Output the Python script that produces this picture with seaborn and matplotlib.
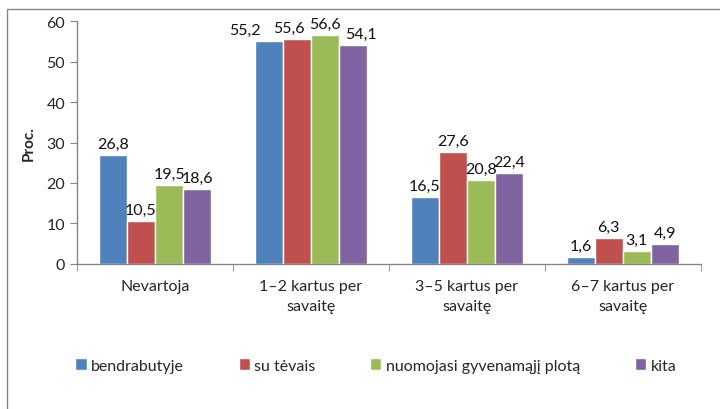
import matplotlib
matplotlib.use("Agg")
import matplotlib.pyplot as plt
import matplotlib.patches as mpatches
import pandas as pd
import seaborn as sns

categories = ["Nevartoja", "1–2 kartus per\nsavaitę", "3–5 kartus per\nsavaitę", "6–7 kartus per\nsavaitę"]
series = ["bendrabutyje", "su tėvais", "nuomojasi gyvenamąjį plotą", "kita"]
bendrabutyje = [26.8, 55.2, 16.5, 1.6]
su_tevais = [10.5, 55.6, 27.6, 6.3]
nuomojasi = [19.5, 56.6, 20.8, 3.1]
kita = [18.6, 54.1, 22.4, 4.9]
colors = ["#4F81BD", "#C0504D", "#9BBB59", "#8064A2"]
y_ticks = [0, 10, 20, 30, 40, 50, 60]

values = [bendrabutyje, su_tevais, nuomojasi, kita]
df = pd.DataFrame({
    "category": [c for _ in series for c in categories],
    "series": [s for s in series for _ in categories],
    "value": [v for vals in values for v in vals],
})

sns.set_style("white")
plt.rcParams["font.family"] = ["Lato", "DejaVu Sans"]

fig = plt.figure(figsize=(7.2, 4.1), dpi=100)
ax = fig.add_axes([0.107, 0.354, 0.866, 0.592])

sns.barplot(data=df, x="category", y="value", hue="series", order=categories,
            hue_order=series, palette=colors, saturation=1, width=0.72,
            gap=0, ax=ax, legend=True)

# labels in the crowded 1-2 group are nudged sideways (in points) like in the original
nudge = {0: -17, 1: -6, 2: 0, 3: 6}
for k, (cont, vals) in enumerate(zip(ax.containers, values)):
    anns = ax.bar_label(cont, labels=[f"{v:.1f}".replace(".", ",") for v in vals],
                        padding=3, fontsize=11.5, color="#111111")
    anns[1].xyann = (nudge[k], 3)

ax.set_ylim(0, 60)
ax.set_xlim(-0.5, len(categories) - 0.5)
ax.set_yticks(y_ticks)
ax.set_xlabel("")
ax.set_ylabel("Proc.", fontsize=11, fontweight="bold", labelpad=8)
ax.tick_params(axis="y", labelsize=11.5, length=5, color="#868686", direction="out", left=True)
ax.tick_params(axis="x", which="major", labelsize=11.5, length=0, pad=11)
for lbl in ax.get_xticklabels():
    lbl.set_multialignment("center")
    lbl.set_linespacing(1.55)
ax.set_xticks([i - 0.5 for i in range(len(categories) + 1)], minor=True)
ax.tick_params(axis="x", which="minor", length=5, color="#868686", direction="out", bottom=True)
for side in ["top", "right"]:
    ax.spines[side].set_visible(False)
for side in ["left", "bottom"]:
    ax.spines[side].set_color("#868686")
    ax.spines[side].set_linewidth(1)

handles, labels = ax.get_legend_handles_labels()
ax.legend_.remove()
fig.legend(handles, labels, loc="center", bbox_to_anchor=(0.522, 0.106), ncol=4,
           frameon=False, fontsize=11.5, handlelength=0.7, handleheight=0.7,
           handletextpad=0.3, columnspacing=3.4)

# outer chart border (only top and left visible in the crop)
fig.add_artist(mpatches.Rectangle((7 / 720, -0.1), 1.2, 1 - 10 / 410 + 0.1,
                                  transform=fig.transFigure, fill=False,
                                  edgecolor="#868686", linewidth=1))

fig.savefig("out.png", dpi=100)
